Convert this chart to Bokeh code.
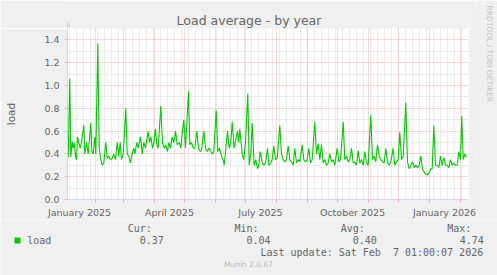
import pandas as pd
from math import pi
from bokeh.plotting import figure
from bokeh.layouts import column, row
from bokeh.models import FixedTicker, Range1d
from bokeh.core.properties import value
from bokeh.embed import file_html
from bokeh.resources import INLINE

# ---------------- data ----------------
BASE = "2025-01-01"            # day 0 of the x scale
x_start_date = "2025-01-05"
x_end_date = "2026-02-09"

# days since 2025-01-01 and daily average load
days = [3.7, 5.3, 6.3, 7.7, 8.7, 9.7, 11.0, 12.0, 13.0, 14.3, 15.7, 17.0, 19.3, 20.3, 22.0, 23.7,
        26.3, 27.3, 28.7, 30.3, 31.3, 33.3, 34.7, 36.3, 37.7, 39.3, 41.3, 42.7, 44.3, 46.0, 47.7,
        49.3, 51.0, 52.7, 54.3, 55.7, 57.0, 58.7, 61.3, 62.7, 64.3, 66.0, 67.7, 69.3, 70.3, 72.3,
        73.7, 76.0, 77.7, 79.3, 81.0, 83.7, 85.0, 86.3, 88.0, 89.3, 91.0, 92.3, 93.7, 96.3, 98.0,
        99.7, 101.3, 103.0, 104.3, 106.0, 107.7, 109.3, 111.0, 112.7, 114.7, 116.3, 118.0, 119.3,
        121.0, 124.0, 125.3, 127.0, 128.7, 130.3, 132.3, 134.0, 135.7, 137.0, 139.3, 141.0, 142.7,
        144.3, 146.0, 147.7, 149.3, 151.7, 153.3, 155.0, 157.0, 158.7, 159.7, 163.0, 164.7, 166.3,
        167.7, 169.7, 171.3, 173.0, 174.3, 175.3, 177.7, 179.3, 181.0, 183.3, 184.7, 186.3, 187.7,
        189.7, 191.3, 193.0, 194.3, 195.7, 197.7, 199.3, 201.0, 203.0, 204.3, 206.3,
        207.7, 209.3, 211.0, 212.7, 215.3, 217.0, 218.7, 220.3, 222.0, 223.7, 225.3, 227.0, 228.7,
        230.3, 232.0, 233.7, 235.3, 237.7, 239.3, 241.0, 242.7, 244.3, 246.0, 247.7, 250.3, 252.0,
        253.7, 255.3, 257.0, 258.7, 260.3, 262.0, 263.7, 265.3, 267.0, 268.7, 270.3, 272.7, 274.3,
        276.0, 278.7, 280.3, 282.0, 283.7, 285.3, 287.0, 288.7, 290.3, 292.0, 293.7, 295.3, 297.0,
        298.7, 300.3, 302.0, 303.7, 306.3, 308.0, 309.7, 311.3, 313.0, 314.7, 316.3, 318.0, 319.7,
        321.3, 323.0, 324.7, 326.3, 328.7, 330.3, 332.0, 333.7, 335.3, 337.0, 338.7, 341.3, 343.0,
        344.7, 346.3, 348.0, 349.7, 351.3, 353.0, 354.7, 356.3, 358.0, 359.7, 361.3, 363.0, 364.7,
        366.3, 367.7, 369.3, 371.0, 372.7, 374.3, 376.0, 377.7, 379.3, 381.0, 382.7, 384.3, 386.0,
        387.7, 389.3, 391.0, 392.7, 394.3, 396.0, 397.3, 398.7, 400.3, 402.0]

load = [0.37, 1.06, 0.37, 0.51, 0.45, 0.50, 0.38, 0.35, 0.55, 0.50, 0.45, 0.50, 0.65, 0.40, 0.50, 0.40,
        0.67, 0.42, 0.40, 0.55, 0.40, 1.37, 0.45, 0.35, 0.30, 0.32, 0.50, 0.36, 0.38, 0.35, 0.36,
        0.40, 0.35, 0.50, 0.38, 0.50, 0.35, 0.40, 0.80, 0.40, 0.38, 0.32, 0.40, 0.45, 0.40, 0.50,
        0.45, 0.55, 0.40, 0.50, 0.45, 0.60, 0.50, 0.55, 0.45, 0.50, 0.62, 0.48, 0.45, 0.82, 0.50,
        0.45, 0.48, 0.42, 0.50, 0.45, 0.55, 0.50, 0.60, 0.48, 0.50, 0.45, 0.60, 0.70,
        0.45, 0.95, 0.48, 0.50, 0.45, 0.45, 0.60, 0.45, 0.42, 0.43, 0.60, 0.45, 0.42,
        0.45, 0.43, 0.40, 0.42, 0.78, 0.42, 0.45, 0.38, 0.35, 0.30, 0.60, 0.45, 0.50,
        0.68, 0.45, 0.52, 0.60, 0.50, 0.62, 0.40, 0.35, 0.50, 0.93, 0.30, 0.40, 0.67,
        0.30, 0.35, 0.27, 0.30, 0.42, 0.33, 0.30, 0.32, 0.45, 0.30, 0.32,
        0.35, 0.47, 0.35, 0.36, 0.65, 0.40, 0.35, 0.33, 0.35, 0.47, 0.35, 0.33, 0.30,
        0.45, 0.32, 0.35, 0.33, 0.48, 0.35, 0.33, 0.35, 0.45, 0.32, 0.35, 0.68, 0.40,
        0.49, 0.35, 0.48, 0.32, 0.35, 0.30, 0.32, 0.40, 0.33, 0.35, 0.30, 0.45, 0.33,
        0.35, 0.68, 0.35, 0.38, 0.33, 0.35, 0.45, 0.32, 0.33, 0.30, 0.43, 0.32, 0.35,
        0.30, 0.42, 0.32, 0.30, 0.74, 0.35, 0.38, 0.33, 0.48, 0.38, 0.35, 0.33, 0.32,
        0.45, 0.33, 0.30, 0.33, 0.45, 0.30, 0.33, 0.35, 0.59, 0.35, 0.38, 0.85, 0.33,
        0.27, 0.30, 0.33, 0.28, 0.30, 0.28, 0.30, 0.38, 0.27, 0.24, 0.22, 0.22, 0.23,
        0.27, 0.27, 0.65, 0.30, 0.30, 0.28, 0.38, 0.30, 0.37, 0.30, 0.30, 0.28, 0.35,
        0.30, 0.32, 0.30, 0.30, 0.42, 0.35, 0.73, 0.35, 0.40, 0.37]

x_label_dates = ["2025-01-16", "2025-04-16", "2025-07-16", "2025-10-16", "2026-01-16"]
x_tick_labels = ["January 2025", "April 2025", "July 2025", "October 2025", "January 2026"]
y_ticks = [0.0, 0.2, 0.4, 0.6, 0.8, 1.0, 1.2, 1.4]
y_tick_labels = ["0.0", "0.2", "0.4", "0.6", "0.8", "1.0", "1.2", "1.4"]
y_minor = [0.1, 0.3, 0.5, 0.7, 0.9, 1.1, 1.3, 1.5]

title = "Load average - by year"
y_label = "load"
series_name = "load"
legend_headers = ["Cur:", "Min:", "Avg:", "Max:"]
legend_values = ["0.37", "0.04", "0.40", "4.74"]
last_update = "Last update: Sat Feb \u00a07 01:00:07 2026"
footer = "Munin 2.0.67"
watermark = "RRDTOOL / TOBI OETIKER"

# ---------------- helpers ----------------
base = pd.Timestamp(BASE)
def day_of(s):
    return (pd.Timestamp(s) - base).days

month_days = [int((d - base).days) for d in pd.date_range("2025-01-01", "2026-02-01", freq="MS")]
week_days = [int((d - base).days) for d in pd.date_range("2025-01-06", "2026-02-09", freq="W-MON")]
label_days = [day_of(s) for s in x_label_dates]

FONT = "DejaVu Sans"
MONO = "DejaVu Sans Mono"
FG = "#666666"
AXIS = "#CFD6F8"
GREEN = "#00CC00"
BACK = "#F0F0F0"
RED = "#F2B0B0"
GRAY = "#D8D8D8"

W, H = 497, 275
MAIN_W = 476
TOP_H = 28            # title band above the plot area
MAIN_H = 192          # plot area (175) + x labels
LEFT_H = TOP_H + MAIN_H
L, R, B = 67, 8, 17

def blank(w, h, xr, yr, left=0, right=0):
    f = figure(width=w, height=h, output_backend="svg", toolbar_location=None,
               x_range=Range1d(*xr), y_range=Range1d(*yr),
               x_axis_location=None, y_axis_location=None,
               min_border=0, min_border_left=left, min_border_right=right,
               min_border_top=0, min_border_bottom=0,
               background_fill_color=BACK, border_fill_color=BACK)
    f.outline_line_color = None
    f.grid.visible = False
    return f

# ---------------- title band (same side borders as the chart) ----------------
top = blank(MAIN_W, TOP_H, (L, MAIN_W - R), (TOP_H, 0), left=L, right=R)
top.text(x=[248.5], y=[20], text=[title], text_font=value(FONT), text_font_size="12.5px",
         text_color=FG, text_align="center", text_baseline="middle")
# y-axis arrow head
top.segment(x0=[L], y0=[TOP_H], x1=[L], y1=[24], line_color=AXIS, line_width=1.5)
top.scatter(x=[L - 0.5], y=[24.0], marker="triangle", size=6, fill_color=AXIS, line_color=AXIS)

# ---------------- main chart ----------------
p = figure(width=MAIN_W, height=MAIN_H, output_backend="svg", toolbar_location=None,
           x_range=Range1d(day_of(x_start_date) - 1, day_of(x_end_date)),
           y_range=Range1d(0, 1.5001),
           min_border_left=L, min_border_right=R, min_border_top=0, min_border_bottom=B,
           background_fill_color="#FFFFFF", border_fill_color=BACK)
p.outline_line_color = None

xa = p.xaxis[0]
xa.ticker = FixedTicker(ticks=label_days, minor_ticks=month_days)
xa.major_label_overrides = {d: s for d, s in zip(label_days, x_tick_labels)}
xa.major_tick_line_color = None
xa.minor_tick_line_color = RED
xa.minor_tick_out = 3
xa.minor_tick_in = 0
xa.major_tick_out = 0
xa.major_tick_in = 0
xa.major_label_standoff = 4
xa.axis_line_color = AXIS
xa.major_label_text_font = FONT
xa.major_label_text_font_size = "9.5px"
xa.major_label_text_color = FG

ya = p.yaxis[0]
ya.ticker = FixedTicker(ticks=y_ticks, minor_ticks=y_minor)
ya.major_label_overrides = {v: s for v, s in zip(y_ticks, y_tick_labels)}
ya.major_tick_line_color = RED
ya.minor_tick_line_color = None
ya.major_tick_out = 3
ya.major_tick_in = 0
ya.major_label_standoff = 4
ya.axis_line_color = AXIS
ya.major_label_text_font = FONT
ya.major_label_text_font_size = "9.5px"
ya.major_label_text_color = FG
ya.axis_label = y_label
ya.axis_label_text_font = FONT
ya.axis_label_text_font_size = "10.5px"
ya.axis_label_text_font_style = "normal"
ya.axis_label_text_color = FG
ya.axis_label_standoff = 24

p.xgrid[0].ticker = FixedTicker(ticks=month_days, minor_ticks=week_days)
for g in (p.xgrid[0], p.ygrid[0]):
    g.grid_line_color = RED
    g.grid_line_dash = "1 1"
    g.minor_grid_line_color = GRAY
    g.minor_grid_line_dash = "1 1"

p.line(days, load, line_color=GREEN, line_width=1.1)

# ---------------- right strip (watermark) ----------------
SW = W - MAIN_W
strip = blank(SW, LEFT_H, (0, SW), (LEFT_H, 0))
strip.text(x=[488.5 - MAIN_W], y=[5], text=[watermark], angle=-pi / 2,
           text_font=value(FONT), text_font_size="7.5px", text_color="#C4C4C4",
           text_align="left", text_baseline="middle")

# ---------------- legend area ----------------
LH = H - LEFT_H
leg = blank(W, LH, (0, W), (LH, 0))
def y_of(cy):
    return cy - LEFT_H

col_x = [127.3, 234.0, 340.3, 446.7]
val_x = [139.3, 246.0, 352.3, 459.3]
leg.text(x=col_x, y=[y_of(227.6)] * 4, text=legend_headers, text_font=value(MONO),
         text_font_size="10px", text_color=FG, text_align="left", text_baseline="middle")
leg.text(x=val_x, y=[y_of(239.6)] * 4, text=legend_values, text_font=value(MONO),
         text_font_size="10px", text_color=FG, text_align="left", text_baseline="middle")
leg.text(x=[26.7], y=[y_of(239.6)], text=[series_name], text_font=value(MONO),
         text_font_size="10px", text_color=FG, text_align="left", text_baseline="middle")
leg.text(x=[482.7], y=[y_of(251.6)], text=[last_update], text_font=value(MONO),
         text_font_size="10px", text_color=FG, text_align="right", text_baseline="middle")
leg.text(x=[248], y=[y_of(263.5)], text=[footer], text_font=value(FONT),
         text_font_size="7.5px", text_color="#BBBBBB", text_align="center", text_baseline="middle")
leg.quad(left=[14], right=[20], top=[y_of(237)], bottom=[y_of(243)],
         fill_color=GREEN, line_color=None)

layout = column(row(column(top, p, spacing=0), strip, spacing=0), leg, spacing=0)
open("out.html", "w").write(file_html(layout, INLINE))
